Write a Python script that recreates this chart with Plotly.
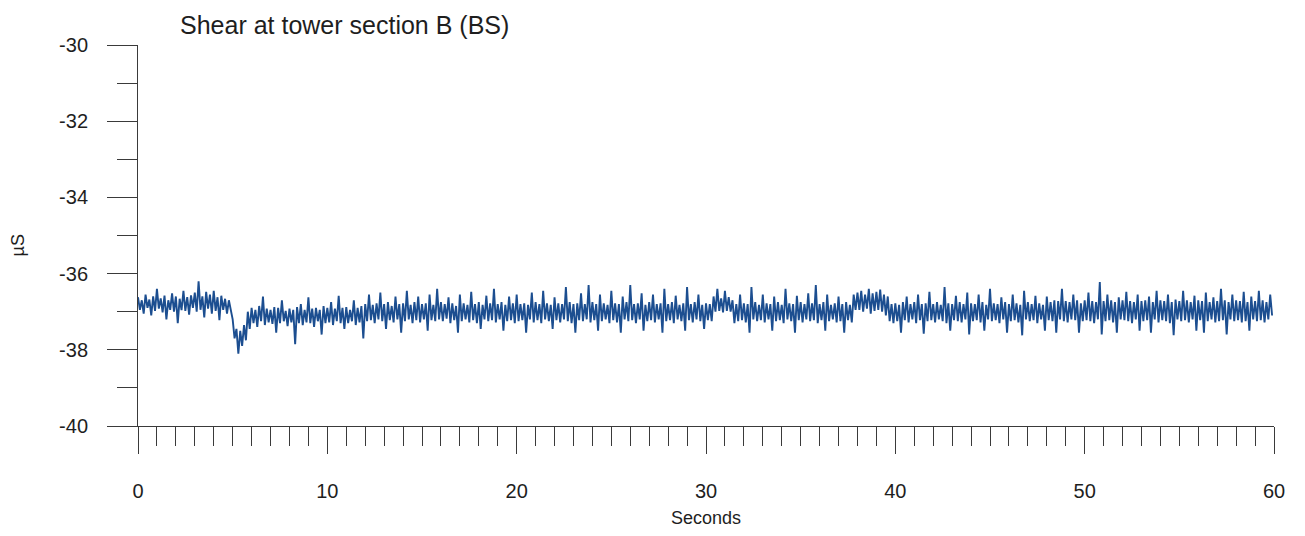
import plotly.graph_objects as go

# Sample times: 0.1 s resolution, 0 .. 59.9 s
sample_step_s = 0.1

# Shear signal (µS), read per 0.1 s column from the reference (band extremes alternate)
shear_00_10 = [
    -36.62, -36.95, -36.70, -37.05, -36.55, -36.90, -36.68, -37.10, -36.60, -36.98,
    -36.40, -36.92, -36.65, -37.02, -36.58, -37.20, -36.70, -36.95, -36.52, -37.00,
    -36.60, -37.30, -36.66, -36.96, -36.45, -36.98, -36.62, -37.08, -36.57, -36.90,
    -36.50, -37.00, -36.20, -36.95, -36.60, -37.15, -36.48, -36.92, -36.55, -37.05,
    -36.45, -36.98, -36.62, -37.22, -36.58, -36.95, -36.66, -37.05, -36.70, -37.00,
    -37.20, -37.70, -37.45, -38.10, -37.50, -37.90, -37.35, -37.75, -37.00, -37.45,
    -36.90, -37.30, -36.95, -37.40, -36.85, -37.25, -36.60, -37.35, -36.92, -37.28,
    -36.95, -37.32, -36.88, -37.55, -36.90, -37.30, -36.70, -37.25, -36.98, -37.38,
    -36.92, -37.28, -36.95, -37.85, -36.88, -37.30, -36.80, -37.35, -36.95, -37.28,
    -36.62, -37.30, -36.92, -37.40, -36.90, -37.25, -36.95, -37.60, -36.85, -37.30,
]
shear_10_20 = [
    -36.90, -37.28, -36.75, -37.35, -36.92, -37.25, -36.58, -37.30, -36.90, -37.45,
    -36.88, -37.30, -36.95, -37.25, -36.70, -37.35, -36.90, -37.28, -36.85, -37.70,
    -36.80, -37.25, -36.55, -37.22, -36.82, -37.30, -36.78, -37.20, -36.50, -37.25,
    -36.80, -37.45, -36.75, -37.22, -36.85, -37.28, -36.60, -37.20, -36.80, -37.55,
    -36.78, -37.25, -36.45, -37.20, -36.82, -37.30, -36.75, -37.22, -36.60, -37.28,
    -36.80, -37.20, -36.78, -37.50, -36.55, -37.22, -36.82, -37.25, -36.40, -37.20,
    -36.75, -37.25, -36.80, -37.18, -36.62, -37.30, -36.78, -37.22, -36.85, -37.55,
    -36.55, -37.25, -36.78, -37.20, -36.82, -37.28, -36.48, -37.22, -36.80, -37.30,
    -36.75, -37.45, -36.82, -37.20, -36.58, -37.25, -36.78, -37.22, -36.40, -37.28,
    -36.80, -37.20, -36.75, -37.50, -36.82, -37.25, -36.60, -37.22, -36.78, -37.30,
]
shear_20_30 = [
    -36.55, -37.25, -36.80, -37.22, -36.78, -37.55, -36.82, -37.20, -36.50, -37.28,
    -36.75, -37.22, -36.80, -37.30, -36.45, -37.20, -36.78, -37.25, -36.82, -37.45,
    -36.62, -37.22, -36.78, -37.28, -36.80, -37.20, -36.35, -37.25, -36.75, -37.30,
    -36.80, -37.55, -36.78, -37.22, -36.52, -37.25, -36.80, -37.20, -36.30, -37.28,
    -36.75, -37.22, -36.80, -37.50, -36.55, -37.25, -36.78, -37.20, -36.82, -37.30,
    -36.45, -37.22, -36.78, -37.28, -36.80, -37.55, -36.60, -37.20, -36.75, -37.25,
    -36.30, -37.22, -36.80, -37.30, -36.78, -37.20, -36.52, -37.50, -36.82, -37.25,
    -36.75, -37.22, -36.55, -37.28, -36.80, -37.20, -36.78, -37.55, -36.40, -37.25,
    -36.80, -37.22, -36.75, -37.30, -36.58, -37.20, -36.82, -37.25, -36.78, -37.50,
    -36.35, -37.22, -36.80, -37.28, -36.75, -37.20, -36.55, -37.25, -36.82, -37.45,
]
shear_30_40 = [
    -36.78, -37.22, -36.80, -37.25, -36.60, -37.00, -36.40, -36.98, -36.65, -37.02,
    -36.45, -36.98, -36.62, -37.00, -36.70, -37.30, -36.80, -37.25, -36.55, -37.22,
    -36.78, -37.28, -36.80, -37.55, -36.35, -37.20, -36.75, -37.25, -36.82, -37.22,
    -36.55, -37.28, -36.78, -37.20, -36.80, -37.50, -36.60, -37.25, -36.75, -37.22,
    -36.82, -37.30, -36.40, -37.20, -36.78, -37.25, -36.80, -37.55, -36.58, -37.22,
    -36.75, -37.28, -36.80, -37.20, -36.52, -37.25, -36.78, -37.22, -36.30, -37.30,
    -36.80, -37.22, -36.75, -37.50, -36.55, -37.25, -36.82, -37.20, -36.78, -37.28,
    -36.60, -37.25, -36.80, -37.55, -36.75, -37.22, -36.82, -37.28, -36.55, -36.95,
    -36.50, -36.95, -36.45, -37.00, -36.55, -36.92, -36.40, -37.05, -36.52, -36.98,
    -36.48, -36.95, -36.42, -37.00, -36.55, -37.10, -36.60, -37.25, -36.80, -37.30,
]
shear_40_50 = [
    -36.78, -37.25, -36.82, -37.55, -36.75, -37.22, -36.60, -37.28, -36.80, -37.20,
    -36.75, -37.30, -36.55, -37.22, -36.80, -37.58, -36.78, -37.25, -36.48, -37.22,
    -36.80, -37.28, -36.75, -37.20, -36.82, -37.25, -36.35, -37.30, -36.78, -37.50,
    -36.80, -37.22, -36.58, -37.25, -36.75, -37.28, -36.80, -37.20, -36.50, -37.60,
    -36.78, -37.25, -36.80, -37.22, -36.55, -37.28, -36.75, -37.50, -36.82, -37.20,
    -36.40, -37.25, -36.78, -37.22, -36.80, -37.30, -36.62, -37.20, -36.75, -37.55,
    -36.80, -37.25, -36.55, -37.22, -36.78, -37.28, -36.82, -37.62, -36.45, -37.20,
    -36.75, -37.25, -36.80, -37.22, -36.58, -37.30, -36.78, -37.20, -36.82, -37.50,
    -36.60, -37.22, -36.75, -37.25, -36.70, -37.55, -36.72, -37.20, -36.40, -37.25,
    -36.72, -37.28, -36.75, -37.20, -36.55, -37.22, -36.70, -37.55, -36.78, -37.25,
]
shear_50_60 = [
    -36.70, -37.22, -36.50, -37.25, -36.72, -37.30, -36.75, -37.20, -36.22, -37.60,
    -36.72, -37.25, -36.55, -37.22, -36.70, -37.28, -36.75, -37.55, -36.62, -37.20,
    -36.70, -37.22, -36.48, -37.25, -36.72, -37.30, -36.75, -37.20, -36.55, -37.50,
    -36.72, -37.25, -36.70, -37.22, -36.60, -37.55, -36.75, -37.20, -36.45, -37.28,
    -36.70, -37.22, -36.72, -37.25, -36.55, -37.30, -36.75, -37.62, -36.68, -37.20,
    -36.72, -37.25, -36.45, -37.22, -36.70, -37.28, -36.75, -37.20, -36.58, -37.50,
    -36.70, -37.22, -36.72, -37.55, -36.50, -37.25, -36.75, -37.20, -36.62, -37.28,
    -36.72, -37.25, -36.40, -37.22, -36.70, -37.60, -36.75, -37.20, -36.55, -37.25,
    -36.70, -37.22, -36.72, -37.28, -36.48, -37.25, -36.75, -37.50, -36.60, -37.20,
    -36.72, -37.25, -36.45, -37.22, -36.70, -37.28, -36.75, -37.20, -36.55, -37.10,
]

title_text = "Shear at tower section B (BS)"
x_title = "Seconds"
y_title = "µS"
x_ticks = [0, 10, 20, 30, 40, 50, 60]
y_ticks = [-40, -38, -36, -34, -32, -30]

shear = shear_00_10 + shear_10_20 + shear_20_30 + shear_30_40 + shear_40_50 + shear_50_60
times = [round(i * sample_step_s, 1) for i in range(len(shear))]

font_family = "Liberation Sans, Arial, sans-serif"
axis_color = "#3a3a3a"
text_color = "#1e1e1e"

# The page body has an 8 px margin, so the figure is laid out 8 px smaller.
FIG_W, FIG_H = 1289, 520
PLOT_L, PLOT_R, PLOT_T, PLOT_B = 130, 1270, 37, 418
PW, PH = PLOT_R - PLOT_L, PLOT_B - PLOT_T


def px(xp):
    return (xp - PLOT_L) / PW


def py(yp):
    return (PLOT_B - yp) / PH


fig = go.Figure()
fig.add_trace(go.Scatter(
    x=times, y=shear, mode="lines",
    line=dict(color="#1c4e90", width=1.9),
    showlegend=False, hoverinfo="skip",
))

fig.update_layout(
    width=FIG_W, height=FIG_H,
    margin=dict(l=PLOT_L, r=FIG_W - PLOT_R, t=PLOT_T, b=FIG_H - PLOT_B, pad=0),
    paper_bgcolor="white", plot_bgcolor="white",
    font=dict(family=font_family, color=text_color, size=20),
    showlegend=False,
)

fig.update_xaxes(
    range=[0, 60], tickvals=x_ticks, ticktext=[str(v) for v in x_ticks],
    showline=True, linecolor=axis_color, linewidth=1,
    ticks="outside", ticklen=27, tickwidth=1, tickcolor=axis_color,
    ticklabelstandoff=20,
    tickfont=dict(size=20, family=font_family, color=text_color),
    showgrid=False, zeroline=False,
    minor=dict(dtick=1, ticks="outside", ticklen=19, tickwidth=1,
               tickcolor=axis_color, showgrid=False),
)
fig.update_yaxes(
    range=[-40, -30], tickvals=y_ticks, ticktext=[str(v) for v in y_ticks],
    showline=True, linecolor=axis_color, linewidth=1,
    ticks="outside", ticklen=30, tickwidth=1, tickcolor=axis_color,
    ticklabelstandoff=15,
    tickfont=dict(size=20, family=font_family, color=text_color),
    showgrid=False, zeroline=False,
    minor=dict(dtick=1, ticks="outside", ticklen=20, tickwidth=1,
               tickcolor=axis_color, showgrid=False),
)

fig.add_annotation(
    text=title_text, xref="paper", yref="paper",
    x=px(170), y=py(17), xanchor="left", yanchor="middle",
    showarrow=False, font=dict(size=25, family=font_family, color=text_color),
)
fig.add_annotation(
    text=x_title, xref="paper", yref="paper",
    x=px(700), y=py(510), xanchor="center", yanchor="middle",
    showarrow=False, font=dict(size=18, family=font_family, color=text_color),
)
fig.add_annotation(
    text=y_title, xref="paper", yref="paper",
    x=px(10), y=py(237), xanchor="center", yanchor="middle",
    textangle=-90,
    showarrow=False, font=dict(size=18, family=font_family, color=text_color),
)

fig.write_html("out.html")
